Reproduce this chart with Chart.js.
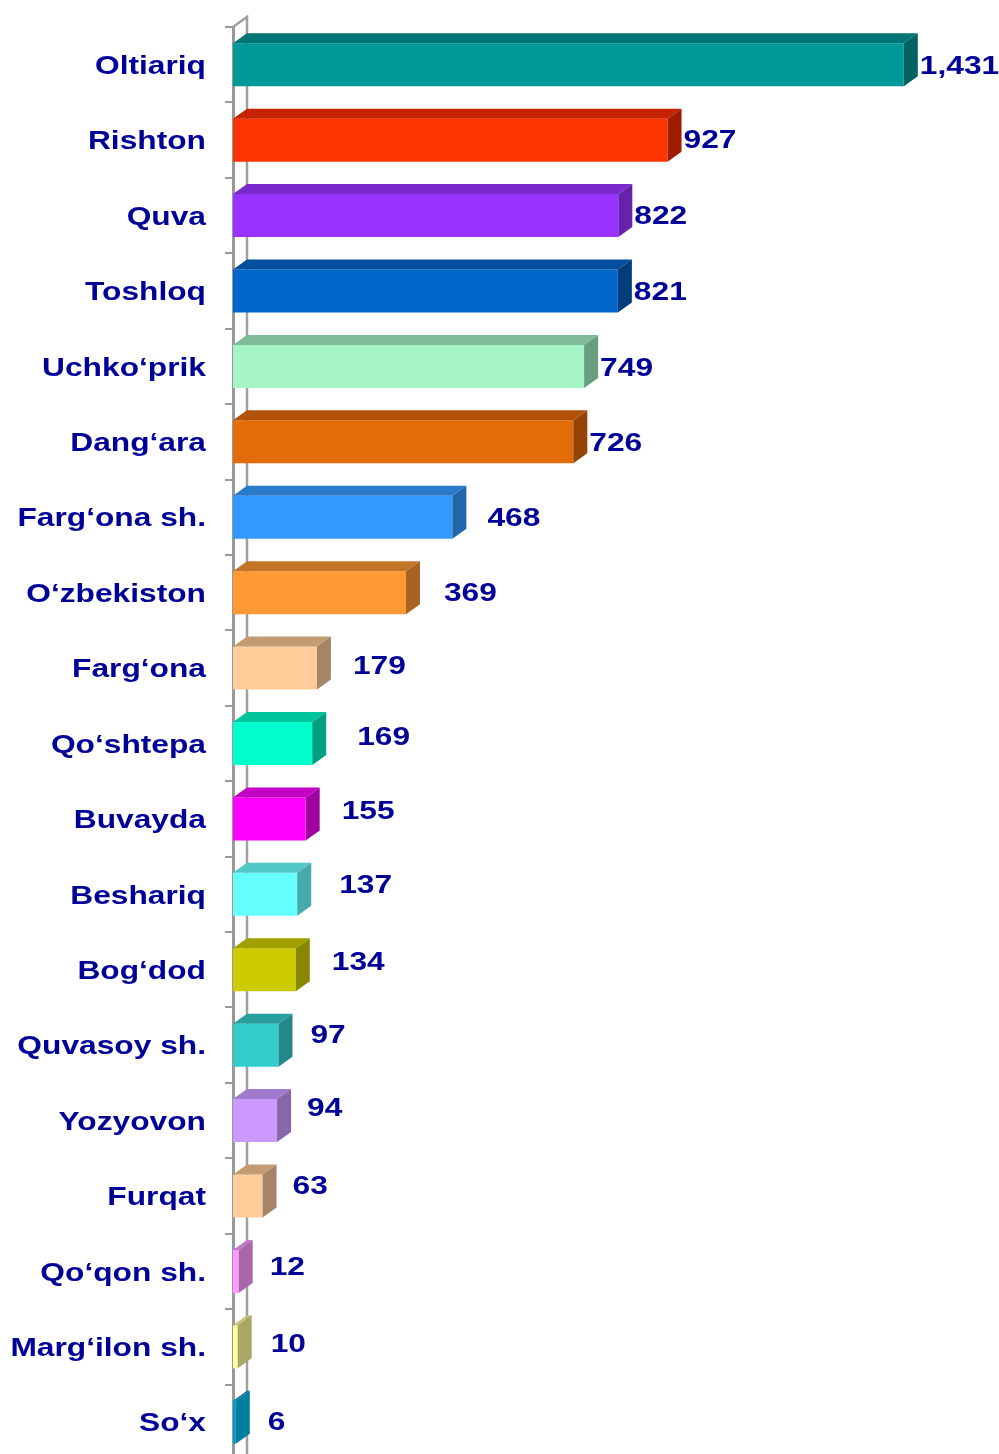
<!DOCTYPE html>
<html>
<head>
<meta charset="utf-8">
<script src="https://cdn.jsdelivr.net/npm/chart.js@4/dist/chart.umd.min.js"></script>
<style>
  html, body { margin: 0; padding: 0; background: #fff; overflow: hidden; }
  #wrap { width: 999px; height: 1462px; }
</style>
</head>
<body>
<div id="wrap"><canvas id="chart" width="999" height="1462"></canvas></div>
<script>
// districts, top to bottom
const categories = [
  'Oltiariq', 'Rishton', 'Quva', 'Toshloq', 'Uchko‘prik', 'Dang‘ara',
  'Farg‘ona sh.', 'O‘zbekiston', 'Farg‘ona', 'Qo‘shtepa', 'Buvayda',
  'Beshariq', 'Bog‘dod', 'Quvasoy sh.', 'Yozyovon', 'Furqat',
  'Qo‘qon sh.', 'Marg‘ilon sh.', 'So‘x'
];
const values = [1431, 927, 822, 821, 749, 726, 468, 369, 179, 169, 155, 137, 134, 97, 94, 63, 12, 10, 6];

// bar face colours (front, top, side)
const frontColors = ['#009999', '#FF3300', '#9933FF', '#0066CC', '#A6F5C6', '#E36C09', '#3399FF', '#FF9933', '#FFCC99', '#00FFCC',
                     '#FF00FF', '#66FFFF', '#CCCC00', '#33CCCC', '#CC99FF', '#FFCC99', '#FF99FF', '#FFFF99', '#0099CC'];
const topColors   = ['#007575', '#C42200', '#7A29CC', '#004F9E', '#80BC98', '#B25208', '#2A7ACC', '#C47628', '#C49C74', '#00C49C',
                     '#C400C4', '#50C8C8', '#A0A000', '#289E9E', '#A07ACC', '#C49C74', '#C478C4', '#C4C478', '#007A9E'];
const sideColors  = ['#006262', '#A01C00', '#6622AA', '#003D7A', '#6A9E7E', '#944407', '#2266AA', '#A86322', '#A88466', '#00A080',
                     '#A000A0', '#44AAAA', '#888800', '#228888', '#8866AA', '#A88466', '#AA66AA', '#A8A866', '#00809F'];

// hand placed value labels in the original (dx, dy in px)
const labelNudge = [[0, 1], [0, 0], [0, 0], [0, 1], [0, 1], [0, 1], [19, 1], [22, 0], [20, -2], [29, -7],
                    [20, -8], [26, -10], [20, -8], [16, -10], [14, -13], [14, -10], [15, -5], [17, -3], [16, 0]];

const textColor = '#000099';
const font = 'bold 26px "Liberation Sans", Arial, sans-serif';
const stretch = 1.22;
const depthX = 14, depthY = 10;

function stretchedText(ctx, text, x, y, align) {
  ctx.save();
  ctx.translate(x, y);
  ctx.scale(stretch, 1);
  ctx.textAlign = align;
  ctx.textBaseline = 'middle';
  ctx.fillText(text, 0, 0);
  ctx.restore();
}

const bar3d = {
  id: 'bar3d',
  beforeDatasetsDraw(chart) {
    // back wall edge
    const ctx = chart.ctx;
    const area = chart.chartArea;
    ctx.save();
    ctx.strokeStyle = '#A0A0A0';
    ctx.lineWidth = 2.5;
    ctx.beginPath();
    ctx.moveTo(area.left, area.top);
    ctx.lineTo(area.left + depthX, area.top - depthY);
    ctx.lineTo(area.left + depthX, area.bottom);
    ctx.stroke();
    ctx.restore();
  },
  afterDatasetsDraw(chart) {
    const ctx = chart.ctx;
    const meta = chart.getDatasetMeta(0);
    ctx.save();
    meta.data.forEach((bar, i) => {
      const p = bar.getProps(['x', 'y', 'base', 'height'], true);
      const top = p.y - p.height / 2;
      const bottom = p.y + p.height / 2;
      // top face
      ctx.fillStyle = topColors[i];
      ctx.beginPath();
      ctx.moveTo(p.base, top);
      ctx.lineTo(p.base + depthX, top - depthY);
      ctx.lineTo(p.x + depthX, top - depthY);
      ctx.lineTo(p.x, top);
      ctx.closePath();
      ctx.fill();
      // side face
      ctx.fillStyle = sideColors[i];
      ctx.beginPath();
      ctx.moveTo(p.x, top);
      ctx.lineTo(p.x + depthX, top - depthY);
      ctx.lineTo(p.x + depthX, bottom - depthY);
      ctx.lineTo(p.x, bottom);
      ctx.closePath();
      ctx.fill();
    });

    // value labels
    ctx.fillStyle = textColor;
    ctx.font = font;
    meta.data.forEach((bar, i) => {
      const n = labelNudge[i];
      stretchedText(ctx, values[i].toLocaleString('en-US'), bar.x + depthX + 2 + n[0], bar.y + n[1] + 1, 'left');
    });

    // category labels
    const yScale = chart.scales.y;
    categories.forEach((c, i) => {
      stretchedText(ctx, c, 206, yScale.getPixelForValue(i) + 2, 'right');
    });
    ctx.restore();
  }
};

new Chart(document.getElementById('chart'), {
  type: 'bar',
  data: {
    labels: categories,
    datasets: [{
      data: values,
      backgroundColor: frontColors,
      borderWidth: 0,
      categoryPercentage: 1,
      barPercentage: 0.57
    }]
  },
  options: {
    indexAxis: 'y',
    responsive: false,
    animation: false,
    devicePixelRatio: 1,
    layout: { padding: { left: 225, top: 27, right: 16, bottom: 2 } },
    scales: {
      x: { display: false, min: 0, max: 1600 },
      y: {
        display: true,
        grid: { drawOnChartArea: false, drawTicks: true, tickLength: 8, color: '#999999', lineWidth: 2, offset: true },
        border: { display: true, color: '#999999', width: 3 },
        ticks: { display: false }
      }
    },
    plugins: {
      legend: { display: false },
      tooltip: { enabled: false }
    }
  },
  plugins: [bar3d]
});
</script>
</body>
</html>
